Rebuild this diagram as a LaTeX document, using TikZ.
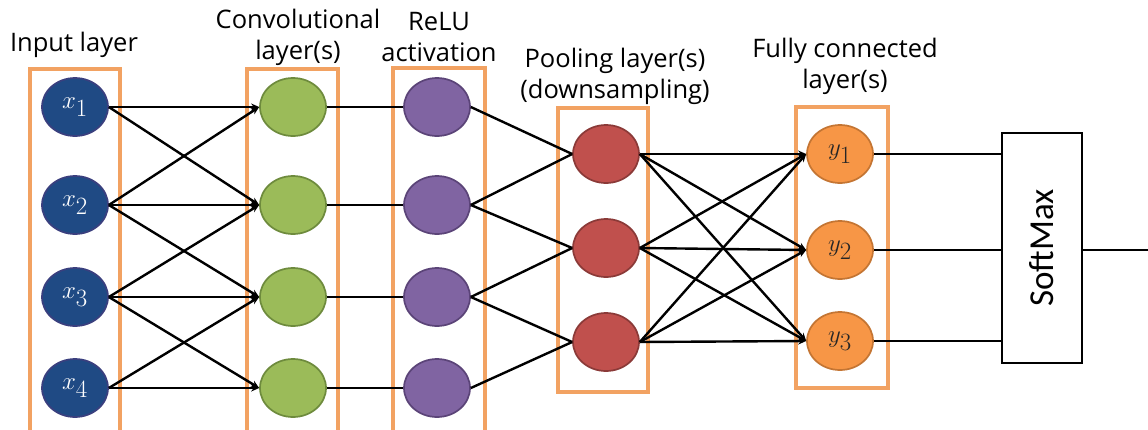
\documentclass[tikz,border=0pt]{standalone}
\usepackage{fontspec}
\setmainfont{Open Sans}
\newfontfamily\boxfont{Carlito}
\usetikzlibrary{shapes.geometric,arrows.meta}

\definecolor{inblue}{HTML}{1F4A84}
\definecolor{inedge}{HTML}{3A3F7E}
\definecolor{convfill}{HTML}{9BBB59}
\definecolor{convedge}{HTML}{6E8B3D}
\definecolor{relufill}{HTML}{8064A2}
\definecolor{reluedge}{HTML}{5B4478}
\definecolor{poolfill}{HTML}{C0504D}
\definecolor{pooledge}{HTML}{8B3A38}
\definecolor{fcfill}{HTML}{F79646}
\definecolor{fcedge}{HTML}{C47533}
\definecolor{boxorange}{HTML}{F2A262}

\begin{document}
\begin{tikzpicture}[x=1pt,y=-1pt,
  neuron/.style={ellipse, minimum width=66pt, minimum height=58pt, inner sep=0pt,
                 line width=1.7pt, font=\fontsize{36}{36}\selectfont},
  inp/.style={neuron, fill=inblue, draw=inedge, text=white},
  conv/.style={neuron, fill=convfill, draw=convedge},
  relu/.style={neuron, fill=relufill, draw=reluedge},
  pool/.style={neuron, fill=poolfill, draw=pooledge},
  fc/.style={neuron, fill=fcfill, draw=fcedge, text=black!85},
  layerbox/.style={draw=boxorange, line width=3.2pt},
  conn/.style={draw=black, line width=2.4pt},
  tipconn/.style={conn, -{Stealth[length=8pt,width=7pt]}},
  lbl/.style={font=\fontsize{25.5}{31}\selectfont, align=center, inner sep=0pt}
]
\useasboundingbox (0,0) rectangle (1148,429);
\fill[white] (0,0) rectangle (1148,429);

% layer frames
\draw[layerbox] (30,69) rectangle (120,440);
\draw[layerbox] (247,69) rectangle (338,440);
\draw[layerbox] (393,68) rectangle (485,440);
\draw[layerbox] (558,108) rectangle (648,392);
\draw[layerbox] (796,107) rectangle (888,388);

% layer titles
\node[lbl] (tin)   at (74,45)  {Input layer};
\node[lbl] (tconv) at (298,37) {Convolutional\\layer(s)};
\node[lbl] (trelu) at (439,37) {ReLU\\activation};
\node[lbl] (tpool) at (615,76) {Pooling layer(s)\\(downsampling)};
\node[lbl] (tfc)   at (845,66) {Fully connected\\layer(s)};

% neurons
\foreach \i/\y in {1/107,2/205,3/297,4/388}{
  \node[inp]  (x\i) at (75,\y)  {$x_{\i}$};
  \node[conv] (c\i) at (293,\y) {};
  \node[relu] (r\i) at (437,\y) {};
}
\foreach \i/\y in {1/154,2/248,3/342}{
  \node[pool] (p\i) at (606,\y) {};
}
\foreach \i/\y in {1/154,2/250,3/341}{
  \node[fc] (y\i) at (840,\y) {$y_{\i}$};
}

% softmax block
\node[draw, line width=2.4pt, minimum width=80pt, minimum height=230pt, inner sep=0pt]
  (sm) at (1042,248) {};
\node[rotate=90, font=\boxfont\fontsize{35}{35}\selectfont] (smtext) at (sm.center) {SoftMax};
\coordinate (out) at (1150,250);

% input -> convolution (local connections)
\foreach \i/\j in {1/1,1/2,2/1,2/2,2/3,3/2,3/3,3/4,4/3,4/4}{
  \draw[tipconn] (x\i.east) -- (c\j.west);
}
% convolution -> ReLU
\foreach \i in {1,...,4}{
  \draw[conn] (c\i.east) -- (r\i.west);
}
% ReLU -> pooling
\foreach \i/\j in {1/1,2/1,2/2,3/2,3/3,4/3}{
  \draw[conn] (r\i.east) -- (p\j.west);
}
% pooling -> fully connected
\foreach \i in {1,2,3}{
  \foreach \j in {1,2,3}{
    \draw[tipconn] (p\i.east) -- (y\j.west);
  }
}
% fully connected -> softmax -> output
\foreach \i in {1,2,3}{
  \draw[conn] (y\i.east) -- (y\i.east -| sm.west);
}
\draw[conn] (sm.east |- out) -- (out);
\end{tikzpicture}
\end{document}
